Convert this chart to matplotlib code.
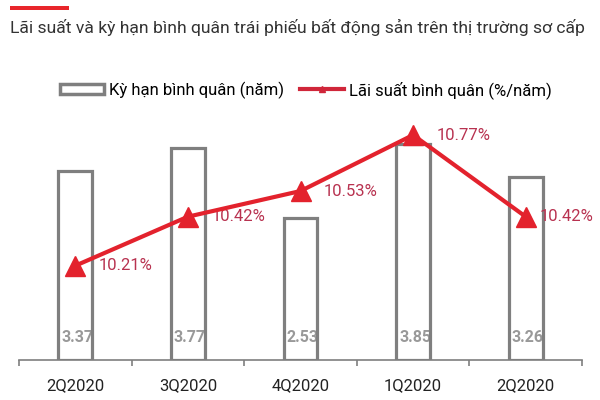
import matplotlib
matplotlib.use("Agg")
import matplotlib.pyplot as plt
from matplotlib.patches import Rectangle, Patch
from matplotlib.lines import Line2D

plt.rcParams['font.family'] = ['Roboto', 'DejaVu Sans']

categories = ["2Q2020", "3Q2020", "4Q2020", "1Q2020", "2Q2020"]
tenor = [3.37, 3.77, 2.53, 3.85, 3.26]
rate = [10.21, 10.42, 10.53, 10.77, 10.42]
title = "Lãi suất và kỳ hạn bình quân trái phiếu bất động sản trên thị trường sơ cấp"
bar_label = "Kỳ hạn bình quân (năm)"
line_label = "Lãi suất bình quân (%/năm)"

GRAY = "#7f7f7f"
RED = "#e3222d"
LABEL_RED = "#b83250"
label_dx = [17, 17, 17, 17, 10]  # label offsets in points (style)

fig = plt.figure(figsize=(6, 4), dpi=100)
ax = fig.add_axes([19/600, 0.1, (582-19)/600, 0.65])
x = list(range(len(categories)))

bars = ax.bar(x, tenor, width=0.30, facecolor="none", edgecolor=GRAY,
              linewidth=2.3, zorder=3)
for xi, v in zip(x, tenor):
    ax.annotate(f"{v:.2f}", (xi, 0), xytext=(1.5, 16), textcoords="offset points",
                ha="center", va="center", fontsize=11.5, fontweight="bold",
                color="#999999", zorder=2)

ax.set_xlim(-0.5, len(categories) - 0.5)
ax.set_ylim(0, 4.63)
for s in ["top", "right", "left"]:
    ax.spines[s].set_visible(False)
ax.spines["bottom"].set_color(GRAY)
ax.spines["bottom"].set_linewidth(1.2)
ax.set_yticks([])
ax.set_xticks(x)
ax.set_xticklabels(categories, fontsize=12, color="#222222")
ax.tick_params(axis="x", which="major", length=0, pad=13)
ax.set_xticks([i - 0.5 for i in range(len(categories) + 1)], minor=True)
ax.tick_params(axis="x", which="minor", length=4, width=1.2, color=GRAY)

ax2 = ax.twinx()
ax2.plot(x, rate, color=RED, linewidth=3, marker="^", markersize=14,
         zorder=4)
for xi, v, dx in zip(x, rate, label_dx):
    ax2.annotate(f"{v:.2f}%", (xi, v), xytext=(dx, 0), textcoords="offset points",
                 ha="left", va="center", fontsize=12, color=LABEL_RED)
ax2.set_ylim(9.806, 10.92)
ax2.set_yticks([])
for s in ["top", "right", "left", "bottom"]:
    ax2.spines[s].set_visible(False)

# title and red accent bar
fig.text(10/600, 1 - 27/400, title, fontsize=12.6, color="#333333",
         ha="left", va="center")
fig.patches.append(Rectangle((10/600, 1 - 10/400), 59/600, 4/400,
                             transform=fig.transFigure, facecolor="#e8262b",
                             edgecolor="none"))

handles = [Patch(facecolor="white", edgecolor=GRAY, linewidth=2.5),
           Line2D([0], [0], color="#d0263a", linewidth=3, marker="^",
                  markersize=5)]
fig.legend(handles, [bar_label, line_label], loc="center",
           bbox_to_anchor=(306/600, 1 - 90/400), ncol=2, frameon=False,
           fontsize=12, handlelength=2.6, handleheight=0.6,
           columnspacing=1.0, handletextpad=0.3)

fig.savefig("out.png", dpi=100)
